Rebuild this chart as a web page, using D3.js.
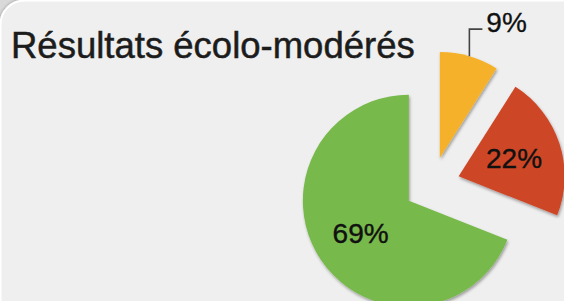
<!DOCTYPE html>
<html>
<head>
<meta charset="utf-8">
<script src="https://d3js.org/d3.v7.min.js"></script>
<style>
    body { margin: 0; background: #d9d9d9; overflow: hidden; }
    text { font-family: "Liberation Sans", Arial, Helvetica, sans-serif; }
</style>
</head>
<body>
<script>
// chart data
var categories = ["Modérés", "Centre", "Écolo"];
var values = [9, 22, 69];
var labels = ["9%", "22%", "69%"];
var colors = ["#f6b12c", "#cd4627", "#78b94b"];
var title = "Résultats écolo-modérés";

window.onload = function(){
    var width = 564, height = 301;
    var cx = 432, cy = 185;       //pie centre
    var radius = 106;
    var explode = 28;             //every slice pulled out from the centre

    var svg = d3.select("body")
        .append("svg")
        .attr("width", width)
        .attr("height", height);

    var defs = svg.append("defs");

    //soft shadow under the slices
    var shadow = defs.append("filter")
        .attr("id", "shadow")
        .attr("x", "-20%").attr("y", "-20%")
        .attr("width", "140%").attr("height", "140%");
    shadow.append("feDropShadow")
        .attr("dx", 1)
        .attr("dy", 2)
        .attr("stdDeviation", 1.5)
        .attr("flood-color", "#000")
        .attr("flood-opacity", 0.35);

    var panelShadow = defs.append("filter")
        .attr("id", "panelShadow");
    panelShadow.append("feDropShadow")
        .attr("dx", 0)
        .attr("dy", 0)
        .attr("stdDeviation", 1.5)
        .attr("flood-color", "#000")
        .attr("flood-opacity", 0.4);

    //background panel with rounded corner
    svg.append("rect")
        .attr("x", 0.5)
        .attr("y", 0.5)
        .attr("width", 620)
        .attr("height", 330)
        .attr("rx", 24)
        .style("fill", "#efefef")
        .style("stroke", "#ffffff")
        .style("stroke-width", 2)
        .attr("filter", "url(#panelShadow)");

    //title
    svg.append("text")
        .attr("x", 11)
        .attr("y", 58)
        .style("font-size", "36.5px")
        .style("fill", "#1c1c1c")
        .style("stroke", "#1c1c1c")
        .style("stroke-width", 0.5)
        .text(title);

    var pie = d3.pie()
        .sort(null)
        .value(function(d){ return d; });

    var arcs = pie(values);

    var arc = d3.arc()
        .innerRadius(0)
        .outerRadius(radius);

    //offset of a slice along its middle angle
    function offset(d){
        var a = (d.startAngle + d.endAngle) / 2;
        return [Math.sin(a) * explode, -Math.cos(a) * explode];
    }

    var slices = svg.selectAll(".slice")
        .data(arcs)
        .enter()
        .append("g")
        .attr("class", "slice")
        .attr("transform", function(d){
            var o = offset(d);
            return "translate(" + (cx + o[0]) + "," + (cy + o[1]) + ")";
        });

    slices.append("path")
        .attr("d", arc)
        .style("fill", function(d, i){ return colors[i]; })
        .attr("filter", "url(#shadow)");

    //labels inside the two big slices
    var labelArc = d3.arc()
        .innerRadius(radius * 0.48)
        .outerRadius(radius * 0.62);

    slices.filter(function(d){ return d.value > 15; })
        .append("text")
        .attr("x", function(d){ return labelArc.centroid(d)[0]; })
        .attr("y", function(d){ return labelArc.centroid(d)[1]; })
        .attr("dy", "0.35em")
        .attr("text-anchor", "middle")
        .style("font-size", "28px")
        .style("fill", "#111")
        .style("stroke", "#111")
        .style("stroke-width", 0.4)
        .text(function(d){ return labels[d.index]; });

    //small slice: label outside with an elbow leader line
    var small = slices.filter(function(d){ return d.value <= 15; });

    small.append("path")
        .attr("d", function(d){
            var a = (d.startAngle + d.endAngle) / 2;
            var x0 = Math.sin(a) * radius, y0 = -Math.cos(a) * radius;
            var y1 = -radius - 23;
            return "M" + x0 + "," + y0 + "V" + y1 + "h13";
        })
        .style("fill", "none")
        .style("stroke", "#444")
        .style("stroke-width", 1.6);

    small.append("text")
        .attr("x", function(d){
            var a = (d.startAngle + d.endAngle) / 2;
            return Math.sin(a) * radius + 17;
        })
        .attr("y", -radius - 20)
        .style("font-size", "28px")
        .style("fill", "#111")
        .style("stroke", "#111")
        .style("stroke-width", 0.3)
        .text(function(d){ return labels[d.index]; });
};
</script>
</body>
</html>
